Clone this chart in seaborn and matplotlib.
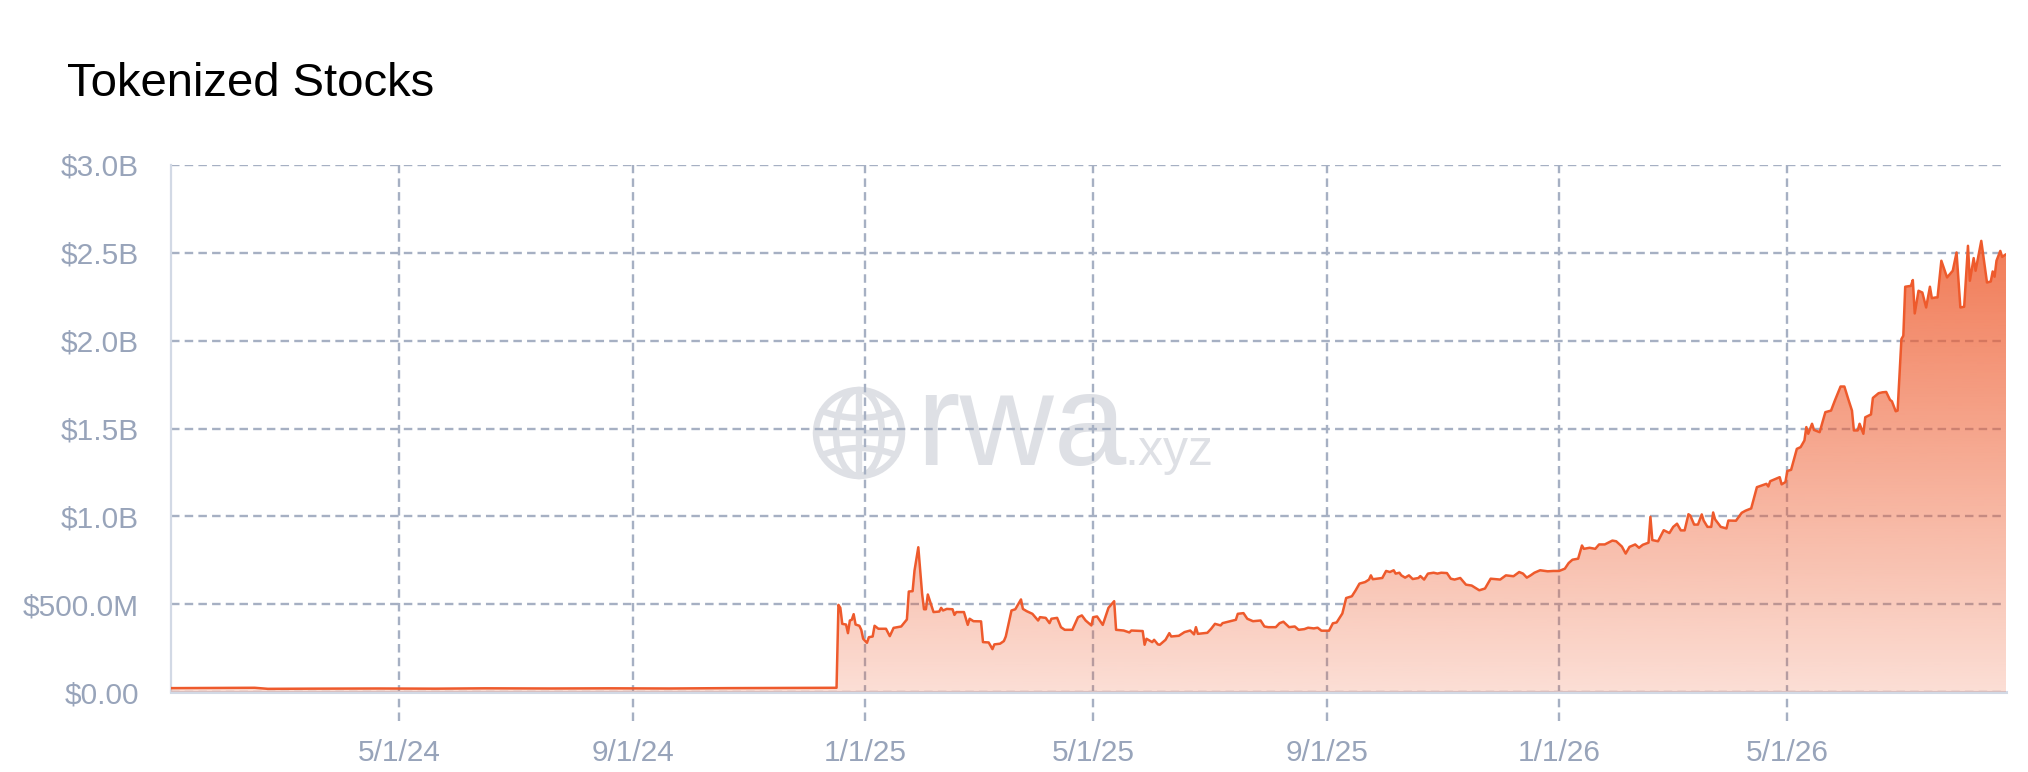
import numpy as np
import pandas as pd
import matplotlib
import matplotlib.pyplot as plt
import matplotlib.dates as mdates
from matplotlib.patches import Circle, Ellipse
import seaborn as sns

# ---- data (value in millions of USD) ----
dates = [
    "2024-01-02", "2024-02-01", "2024-02-15", "2024-02-22", "2024-03-15", "2024-04-20",
    "2024-05-20", "2024-06-15", "2024-07-20", "2024-08-20", "2024-09-20", "2024-10-20",
    "2024-11-20", "2024-12-17", "2024-12-18", "2024-12-19", "2024-12-20", "2024-12-22",
    "2024-12-23", "2024-12-24", "2024-12-25", "2024-12-26", "2024-12-27", "2024-12-29",
    "2024-12-30", "2024-12-31", "2025-01-02", "2025-01-03", "2025-01-05", "2025-01-06",
    "2025-01-08", "2025-01-12", "2025-01-14", "2025-01-16", "2025-01-20", "2025-01-23",
    "2025-01-24", "2025-01-26", "2025-01-27", "2025-01-29", "2025-01-31", "2025-02-01",
    "2025-02-02", "2025-02-03", "2025-02-04", "2025-02-06", "2025-02-09", "2025-02-10",
    "2025-02-11", "2025-02-13", "2025-02-16", "2025-02-17", "2025-02-18", "2025-02-22",
    "2025-02-24", "2025-02-25", "2025-02-27", "2025-03-03", "2025-03-04", "2025-03-07",
    "2025-03-09", "2025-03-10", "2025-03-13", "2025-03-15", "2025-03-16", "2025-03-19",
    "2025-03-21", "2025-03-24", "2025-03-25", "2025-03-27", "2025-03-30", "2025-04-02",
    "2025-04-03", "2025-04-06", "2025-04-08", "2025-04-09", "2025-04-12", "2025-04-14",
    "2025-04-16", "2025-04-20", "2025-04-23", "2025-04-25", "2025-04-27", "2025-04-30",
    "2025-05-01", "2025-05-03", "2025-05-06", "2025-05-09", "2025-05-12", "2025-05-13",
    "2025-05-17", "2025-05-20", "2025-05-21", "2025-05-27", "2025-05-28", "2025-05-29",
    "2025-06-01", "2025-06-02", "2025-06-04", "2025-06-05", "2025-06-08", "2025-06-10",
    "2025-06-11", "2025-06-15", "2025-06-18", "2025-06-21", "2025-06-23", "2025-06-24",
    "2025-06-25", "2025-06-30", "2025-07-02", "2025-07-04", "2025-07-07", "2025-07-08",
    "2025-07-15", "2025-07-16", "2025-07-19", "2025-07-21", "2025-07-24", "2025-07-28",
    "2025-07-30", "2025-08-01", "2025-08-05", "2025-08-07", "2025-08-09", "2025-08-12",
    "2025-08-15", "2025-08-17", "2025-08-20", "2025-08-22", "2025-08-25", "2025-08-27",
    "2025-08-29", "2025-09-02", "2025-09-04", "2025-09-06", "2025-09-09", "2025-09-11",
    "2025-09-14", "2025-09-16", "2025-09-18", "2025-09-21", "2025-09-23", "2025-09-24",
    "2025-09-25", "2025-09-30", "2025-10-02", "2025-10-04", "2025-10-06", "2025-10-07",
    "2025-10-09", "2025-10-10", "2025-10-12", "2025-10-14", "2025-10-16", "2025-10-19",
    "2025-10-20", "2025-10-22", "2025-10-24", "2025-10-27", "2025-10-29", "2025-10-31",
    "2025-11-03", "2025-11-05", "2025-11-07", "2025-11-10", "2025-11-13", "2025-11-16",
    "2025-11-20", "2025-11-23", "2025-11-26", "2025-12-01", "2025-12-04", "2025-12-08",
    "2025-12-11", "2025-12-13", "2025-12-15", "2025-12-17", "2025-12-19", "2025-12-22",
    "2025-12-26", "2025-12-29", "2026-01-01", "2026-01-04", "2026-01-06", "2026-01-08",
    "2026-01-11", "2026-01-13", "2026-01-14", "2026-01-17", "2026-01-20", "2026-01-22",
    "2026-01-25", "2026-01-29", "2026-01-31", "2026-02-03", "2026-02-05", "2026-02-07",
    "2026-02-10", "2026-02-12", "2026-02-14", "2026-02-17", "2026-02-18", "2026-02-19",
    "2026-02-22", "2026-02-25", "2026-02-28", "2026-03-02", "2026-03-04", "2026-03-06",
    "2026-03-08", "2026-03-10", "2026-03-11", "2026-03-13", "2026-03-15", "2026-03-17",
    "2026-03-18", "2026-03-20", "2026-03-22", "2026-03-23", "2026-03-24", "2026-03-27",
    "2026-03-30", "2026-03-31", "2026-04-04", "2026-04-07", "2026-04-09", "2026-04-12",
    "2026-04-15", "2026-04-20", "2026-04-21", "2026-04-22", "2026-04-27", "2026-04-28",
    "2026-04-30", "2026-05-01", "2026-05-03", "2026-05-06", "2026-05-08", "2026-05-10",
    "2026-05-11", "2026-05-12", "2026-05-14", "2026-05-15", "2026-05-18", "2026-05-21",
    "2026-05-24", "2026-05-26", "2026-05-29", "2026-05-31", "2026-06-02", "2026-06-04",
    "2026-06-05", "2026-06-07", "2026-06-08", "2026-06-10", "2026-06-11", "2026-06-14",
    "2026-06-15", "2026-06-18", "2026-06-20", "2026-06-22", "2026-06-24", "2026-06-25",
    "2026-06-27", "2026-06-28", "2026-06-30", "2026-07-01", "2026-07-02", "2026-07-05",
    "2026-07-06", "2026-07-07", "2026-07-09", "2026-07-11", "2026-07-13", "2026-07-15",
    "2026-07-16", "2026-07-18", "2026-07-19", "2026-07-21", "2026-07-24", "2026-07-27",
    "2026-07-29", "2026-07-31", "2026-08-02", "2026-08-04", "2026-08-05", "2026-08-07",
    "2026-08-08", "2026-08-11", "2026-08-14", "2026-08-16", "2026-08-17", "2026-08-18",
    "2026-08-19", "2026-08-21", "2026-08-22", "2026-08-24",
]
tvl_m = [
    22, 23, 24, 18, 19, 20,
    19, 21, 20, 21, 20, 22,
    23, 24, 496, 479, 388, 384,
    335, 407, 411, 443, 384, 377,
    354, 303, 280, 312, 316, 377,
    360, 360, 318, 365, 373, 413,
    572, 574, 691, 824, 559, 471,
    471, 555, 521, 455, 458, 479,
    464, 473, 471, 439, 455, 455,
    382, 417, 403, 402, 284, 282,
    244, 271, 275, 290, 316, 464,
    471, 527, 473, 460, 445, 407,
    426, 422, 392, 417, 422, 369,
    354, 354, 426, 436, 407, 379,
    426, 430, 382, 479, 517, 354,
    350, 339, 350, 347, 269, 303,
    284, 297, 271, 269, 297, 335,
    316, 320, 341, 350, 328, 369,
    331, 337, 360, 388, 379, 392,
    411, 445, 449, 417, 403, 407,
    373, 369, 369, 392, 400, 369,
    373, 354, 358, 366, 362, 366,
    349, 349, 391, 396, 447, 535,
    545, 579, 617, 626, 640, 664,
    642, 649, 689, 683, 693, 674,
    679, 664, 651, 664, 643, 649,
    660, 640, 674, 679, 674, 679,
    677, 645, 640, 649, 611, 606,
    579, 589, 645, 640, 664, 659,
    683, 674, 651, 664, 679, 693,
    687, 689, 689, 702, 734, 753,
    759, 834, 815, 821, 815, 840,
    840, 862, 858, 828, 788, 826,
    840, 821, 838, 850, 997, 865,
    858, 921, 905, 940, 958, 920,
    920, 1012, 1004, 953, 953, 1011,
    976, 940, 940, 1022, 983, 940,
    931, 976, 975, 1020, 1032, 1045,
    1166, 1185, 1170, 1200, 1223, 1182,
    1195, 1258, 1265, 1384, 1394, 1432,
    1508, 1470, 1527, 1492, 1479, 1593,
    1602, 1659, 1739, 1739, 1669, 1602,
    1489, 1489, 1527, 1470, 1564, 1580,
    1674, 1701, 1706, 1708, 1663, 1655,
    1598, 1602, 2009, 2028, 2307, 2312,
    2345, 2155, 2284, 2274, 2189, 2307,
    2242, 2246, 2246, 2455, 2360, 2398,
    2502, 2189, 2193, 2540, 2341, 2470,
    2398, 2568, 2331, 2337, 2394, 2364,
    2455, 2511, 2477, 2492,
]

y_ticks = [0, 500, 1000, 1500, 2000, 2500, 3000]
y_labels = ["$0.00", "$500.0M", "$1.0B", "$1.5B", "$2.0B", "$2.5B", "$3.0B"]
x_ticks = ["2024-05-01", "2024-09-01", "2025-01-01", "2025-05-01",
           "2025-09-01", "2026-01-01", "2026-05-01"]
x_labels = ["5/1/24", "9/1/24", "1/1/25", "5/1/25", "9/1/25", "1/1/26", "5/1/26"]

LINE = "#EE5A2C"
GRID = "#A6B0C3"
TICK = "#98A4BA"
AXIS = "#D2D9E5"
WM = "#DEE0E5"
DASH = (0, (3.6, 2.2))

sns.set_style("white")
plt.rcParams["font.family"] = ["Liberation Sans", "DejaVu Sans"]

df = pd.DataFrame({"date": pd.to_datetime(dates), "tvl": tvl_m})

W, H = 2028, 772
fig = plt.figure(figsize=(W / 100, H / 100), dpi=100)

# watermark layer in pixel coordinates
wm = fig.add_axes([0, 0, 1, 1], zorder=0)
wm.set_xlim(0, W)
wm.set_ylim(H, 0)
wm.axis("off")
cx, cy, r = 859, 433, 43
lw_wm = 4.6
wm.add_patch(Circle((cx, cy), r, fill=False, ec=WM, lw=lw_wm))
wm.add_patch(Ellipse((cx, cy), 46, 2 * r, fill=False, ec=WM, lw=lw_wm))
wm.plot([cx, cx], [cy - r, cy + r], color=WM, lw=lw_wm)
wm.plot([cx - r, cx + r], [cy, cy], color=WM, lw=lw_wm)
t = np.linspace(-37, 37, 60)
wm.plot(cx + t, 411 + 7 * (1 - (t / 37) ** 2), color=WM, lw=lw_wm)
wm.plot(cx + t, 455 - 7 * (1 - (t / 37) ** 2), color=WM, lw=lw_wm)
wm.text(916, 465, "rwa", fontsize=94, color=WM, ha="left", va="baseline")
wm.text(1124, 465, ".xyz", fontsize=36, color=WM, ha="left", va="baseline")

# main chart
ax = fig.add_axes([171 / W, 1 - 692 / H, (2006 - 171) / W, (692 - 165) / H], zorder=1)
ax.patch.set_alpha(0)
ax.set_axisbelow(True)

sns.lineplot(data=df, x="date", y="tvl", ax=ax, color=LINE, linewidth=1.8, zorder=4)

# gradient area under the line
xnum = mdates.date2num(df["date"])
poly = ax.fill_between(df["date"], df["tvl"], 0, color="none", lw=0)
vmax = df["tvl"].max()
img = np.zeros((256, 1, 4))
img[..., :3] = matplotlib.colors.to_rgb(LINE)
img[:, 0, 3] = np.linspace(0.2, 0.8, 256)
im = ax.imshow(img, extent=[xnum[0], xnum[-1], 0, vmax], origin="lower",
               aspect="auto", zorder=3)
im.set_clip_path(poly.get_paths()[0], transform=ax.transData)

ax.set_xlim(df["date"].iloc[0], df["date"].iloc[-1])
ax.set_ylim(0, 3000)

ax.set_yticks(y_ticks)
ax.set_yticklabels(y_labels)
ax.set_xticks(pd.to_datetime(x_ticks))
ax.set_xticklabels(x_labels)
ax.yaxis.grid(True, color=GRID, linestyle=DASH, linewidth=1.7)
ax.xaxis.grid(False)
for d in pd.to_datetime(x_ticks):
    ax.axvline(d, ymin=-0.055, ymax=1, color=GRID, linestyle=DASH,
               linewidth=1.7, clip_on=False, zorder=1)

ax.tick_params(axis="y", length=0, pad=23, labelsize=21.5, labelcolor=TICK)
ax.tick_params(axis="x", length=0, pad=34, labelsize=21.5, labelcolor=TICK)
ax.set_xlabel("")
ax.set_ylabel("")

for side in ["top", "right"]:
    ax.spines[side].set_visible(False)
ax.spines["left"].set_color(AXIS)
ax.spines["left"].set_linewidth(1.6)
ax.spines["bottom"].set_color(AXIS)
ax.spines["bottom"].set_linewidth(2.2)

fig.text(67 / W, 1 - 96 / H, "Tokenized Stocks", fontsize=34, color="black",
         ha="left", va="baseline")

fig.savefig("out.png", dpi=100)
